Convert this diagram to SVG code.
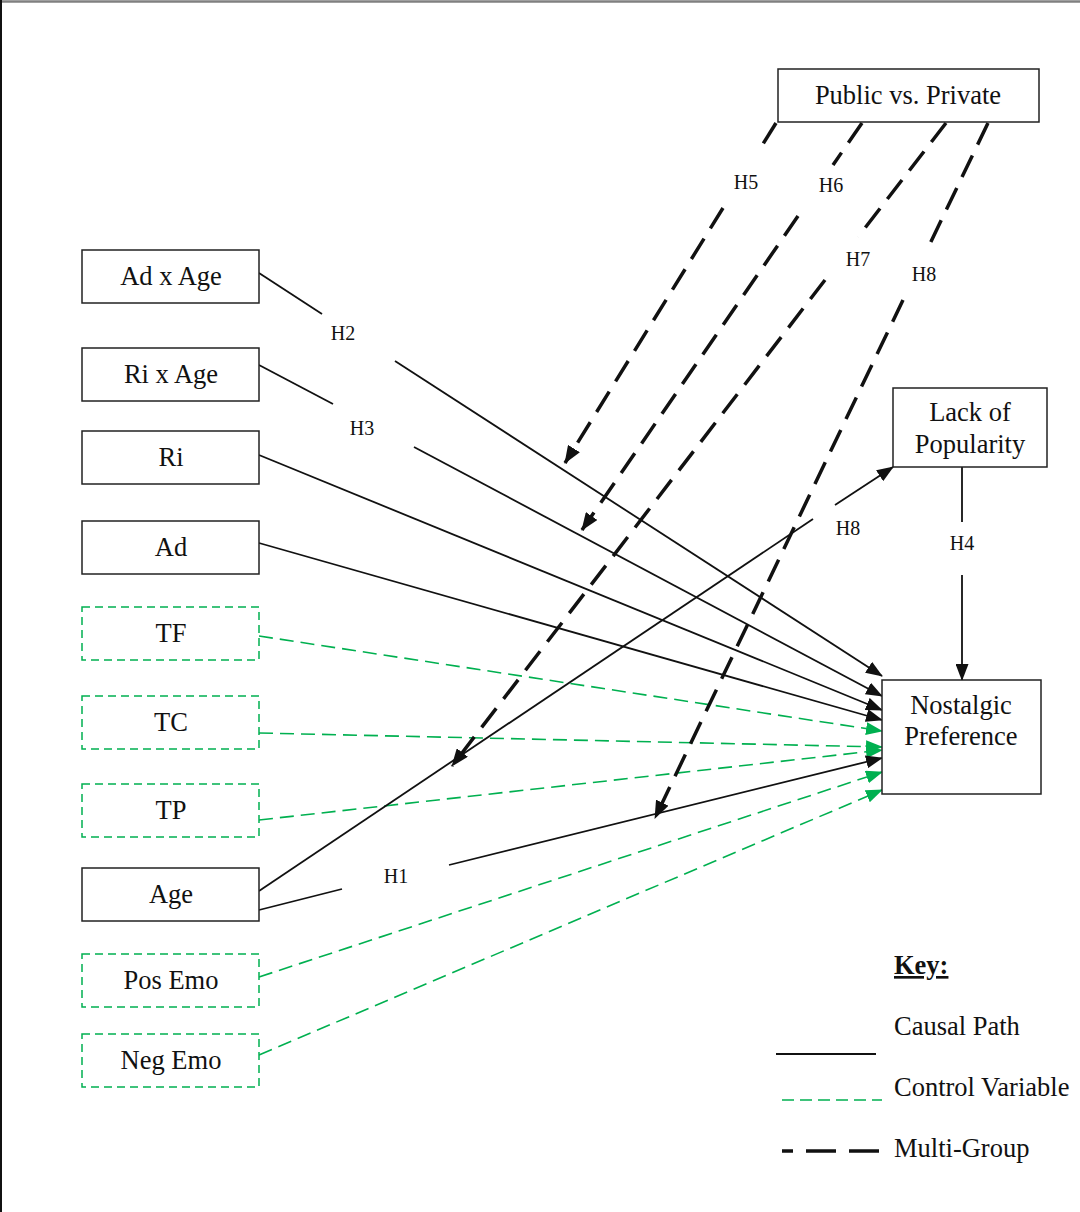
<svg xmlns="http://www.w3.org/2000/svg" width="1080" height="1212" viewBox="0 0 1080 1212">
<style>
text{font-family:"Liberation Serif","Times New Roman",serif;fill:#111;}
.lbl{font-size:26.5px;text-anchor:middle;}
.h{font-size:20px;text-anchor:middle;}
.key{font-size:26.5px;}
.box{fill:#fff;stroke:#222;stroke-width:1.5;}
.gbox{fill:#fff;stroke:#00b050;stroke-width:1.5;stroke-dasharray:8 5;}
.c{stroke:#111;stroke-width:1.8;fill:none;}
.g{stroke:#00b050;stroke-width:1.6;fill:none;stroke-dasharray:14 7;}
.m{stroke:#111;stroke-width:3.5;fill:none;stroke-dasharray:24 12;}
</style>
<defs>
<marker id="ab" markerUnits="userSpaceOnUse" markerWidth="17" markerHeight="13" refX="16" refY="6.5" orient="auto"><path d="M0,0 L17,6.5 L0,13 z" fill="#111"/></marker>
<marker id="ag" markerUnits="userSpaceOnUse" markerWidth="17" markerHeight="13" refX="16" refY="6.5" orient="auto"><path d="M0,0 L17,6.5 L0,13 z" fill="#00b050"/></marker>
<marker id="am" markerUnits="userSpaceOnUse" markerWidth="18" markerHeight="14" refX="17" refY="7" orient="auto"><path d="M0,0 L18,7 L0,14 z" fill="#111"/></marker>
</defs>
<rect width="1080" height="1212" fill="#fff"/>
<line x1="0" y1="1.5" x2="1080" y2="1.5" stroke="#808080" stroke-width="2.5"/>
<line x1="1" y1="0" x2="1" y2="1212" stroke="#111" stroke-width="2"/>

<g id="connectors">
<line class="c" x1="259" y1="273" x2="322" y2="314"/>
<line class="c" x1="395" y1="361" x2="882" y2="676" marker-end="url(#ab)"/>
<line class="c" x1="259" y1="365" x2="333" y2="404"/>
<line class="c" x1="414" y1="447" x2="882" y2="696" marker-end="url(#ab)"/>
<line class="c" x1="259" y1="455" x2="882" y2="710" marker-end="url(#ab)"/>
<line class="c" x1="259" y1="543" x2="882" y2="720" marker-end="url(#ab)"/>
<line class="g" x1="259" y1="636" x2="882" y2="731" marker-end="url(#ag)"/>
<line class="g" x1="259" y1="733" x2="882" y2="747" marker-end="url(#ag)"/>
<line class="g" x1="259" y1="820" x2="882" y2="750" marker-end="url(#ag)"/>
<line class="c" x1="259" y1="910" x2="342" y2="889"/>
<line class="c" x1="449" y1="865" x2="882" y2="758" marker-end="url(#ab)"/>
<line class="g" x1="259" y1="977" x2="882" y2="772" marker-end="url(#ag)"/>
<line class="g" x1="259" y1="1055" x2="882" y2="790" marker-end="url(#ag)"/>
<line class="c" x1="259" y1="891" x2="813" y2="519"/>
<line class="c" x1="835" y1="505" x2="893" y2="467" marker-end="url(#ab)"/>
<line class="c" x1="962" y1="467" x2="962" y2="522"/>
<line class="c" x1="962" y1="575" x2="962" y2="680" marker-end="url(#ab)"/>
<line class="m" x1="776" y1="123" x2="758" y2="152"/>
<line class="m" x1="723" y1="208" x2="565" y2="463" marker-end="url(#am)"/>
<line class="m" x1="862" y1="123" x2="833" y2="165"/>
<line class="m" x1="798" y1="216" x2="582" y2="530" marker-end="url(#am)"/>
<line class="m" x1="946" y1="123" x2="858" y2="237"/>
<line class="m" x1="825" y1="280" x2="452" y2="766" marker-end="url(#am)"/>
<line class="m" x1="988" y1="123" x2="926" y2="252"/>
<line class="m" x1="903" y1="300" x2="655" y2="818" marker-end="url(#am)"/>
<text class="h" x="343" y="340">H2</text>
<text class="h" x="362" y="435">H3</text>
<text class="h" x="396" y="883">H1</text>
<text class="h" x="746" y="189">H5</text>
<text class="h" x="831" y="192">H6</text>
<text class="h" x="858" y="266">H7</text>
<text class="h" x="924" y="281">H8</text>
<text class="h" x="848" y="535">H8</text>
<text class="h" x="962" y="550">H4</text>
</g>

<g id="n-adxage"><rect class="box" x="82" y="250" width="177" height="53"/><text class="lbl" x="171" y="285">Ad x Age</text></g>
<g id="n-rixage"><rect class="box" x="82" y="348" width="177" height="53"/><text class="lbl" x="171" y="383">Ri x Age</text></g>
<g id="n-ri"><rect class="box" x="82" y="431" width="177" height="53"/><text class="lbl" x="171" y="466">Ri</text></g>
<g id="n-ad"><rect class="box" x="82" y="521" width="177" height="53"/><text class="lbl" x="171" y="556">Ad</text></g>
<g id="n-tf"><rect class="gbox" x="82" y="607" width="177" height="53"/><text class="lbl" x="171" y="642">TF</text></g>
<g id="n-tc"><rect class="gbox" x="82" y="696" width="177" height="53"/><text class="lbl" x="171" y="731">TC</text></g>
<g id="n-tp"><rect class="gbox" x="82" y="784" width="177" height="53"/><text class="lbl" x="171" y="819">TP</text></g>
<g id="n-age"><rect class="box" x="82" y="868" width="177" height="53"/><text class="lbl" x="171" y="903">Age</text></g>
<g id="n-posemo"><rect class="gbox" x="82" y="954" width="177" height="53"/><text class="lbl" x="171" y="989">Pos Emo</text></g>
<g id="n-negemo"><rect class="gbox" x="82" y="1034" width="177" height="53"/><text class="lbl" x="171" y="1069">Neg Emo</text></g>
<g id="n-pubpriv"><rect class="box" x="778" y="69" width="261" height="53"/><text class="lbl" x="908" y="104">Public vs. Private</text></g>
<g id="n-lackpop"><rect class="box" x="893" y="388" width="154" height="79"/><text class="lbl" x="970" y="421">Lack of</text><text class="lbl" x="970" y="453">Popularity</text></g>
<g id="n-nostalgic"><rect class="box" x="882" y="680" width="159" height="114"/><text class="lbl" x="961" y="714">Nostalgic</text><text class="lbl" x="961" y="745">Preference</text></g>

<g id="key">
<text class="key" x="894" y="974" font-weight="bold" text-decoration="underline">Key:</text>
<text class="key" x="894" y="1035">Causal Path</text>
<text class="key" x="894" y="1096">Control Variable</text>
<text class="key" x="894" y="1157">Multi-Group</text>
<line x1="776" y1="1054" x2="876" y2="1054" stroke="#111" stroke-width="2"/>
<line x1="782" y1="1100" x2="882" y2="1100" stroke="#00b050" stroke-width="1.6" stroke-dasharray="12 6"/>
<line x1="782" y1="1151" x2="882" y2="1151" stroke="#111" stroke-width="3.5" stroke-dasharray="30 13" stroke-dashoffset="19"/>
</g>
</svg>
